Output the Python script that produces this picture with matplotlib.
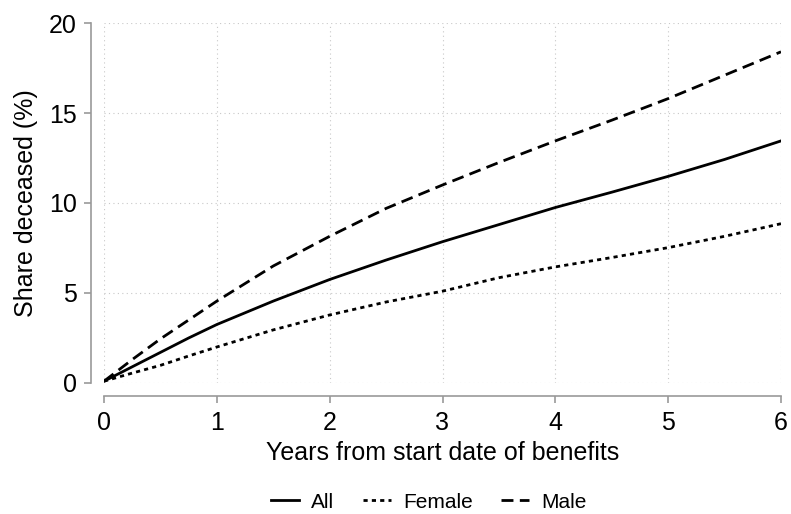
import matplotlib
matplotlib.use("Agg")
import matplotlib.pyplot as plt
import numpy as np

plt.rcParams['font.family'] = ['Liberation Sans', 'DejaVu Sans']

# years from start date of benefits
years = [0, 0.25, 0.5, 0.75, 1, 1.5, 2, 2.5, 3, 3.5, 4, 4.5, 5, 5.5, 6]
share_all = [0.1, 0.9, 1.7, 2.5, 3.25, 4.55, 5.75, 6.83, 7.85, 8.8, 9.75, 10.6, 11.48, 12.42, 13.45]
share_female = [0.1, 0.55, 0.98, 1.5, 2.0, 2.95, 3.78, 4.5, 5.1, 5.85, 6.45, 6.97, 7.52, 8.15, 8.85]
share_male = [0.1, 1.3, 2.45, 3.5, 4.55, 6.5, 8.15, 9.7, 11.0, 12.25, 13.45, 14.6, 15.8, 17.1, 18.4]

xticks = [0, 1, 2, 3, 4, 5, 6]
yticks = [0, 5, 10, 15, 20]

fig = plt.figure(figsize=(7.91, 5.14), dpi=100)
ax = fig.add_axes([104 / 791, 1 - 383 / 514, 677 / 791, 360 / 514])

lw = 2.0
ax.plot(years, share_all, color='black', lw=lw, label='All')
ax.plot(years, share_female, color='black', lw=lw, dashes=(1.5, 1.5), label='Female')
ax.plot(years, share_male, color='black', lw=lw, dashes=(4.3, 2.3), label='Male')

ax.set_xlim(0, 6)
ax.set_ylim(0, 20)
ax.set_xticks(xticks)
ax.set_yticks(yticks)

ax.grid(True, color='#c8c8c8', linestyle=(0, (1, 3)), linewidth=0.8)
ax.set_axisbelow(True)

for side in ['top', 'right']:
    ax.spines[side].set_visible(False)
for side in ['left', 'bottom']:
    ax.spines[side].set_position(('outward', 9.5))
    ax.spines[side].set_color('#999999')
    ax.spines[side].set_linewidth(1.2)

ax.tick_params(axis='both', colors='#999999', length=5, width=1.2,
               labelsize=18, labelcolor='black')
ax.tick_params(axis='x', pad=6)
ax.tick_params(axis='y', pad=5)

ax.set_xlabel('Years from start date of benefits', fontsize=18, labelpad=4)
ax.set_ylabel('Share deceased (%)', fontsize=18, labelpad=8)

fig.legend(loc='center', bbox_to_anchor=(0.542, 12 / 514), ncol=3,
           frameon=False, fontsize=15, handlelength=1.35, columnspacing=1.35,
           handletextpad=0.58, borderpad=0)

fig.savefig('out.png', dpi=100)
